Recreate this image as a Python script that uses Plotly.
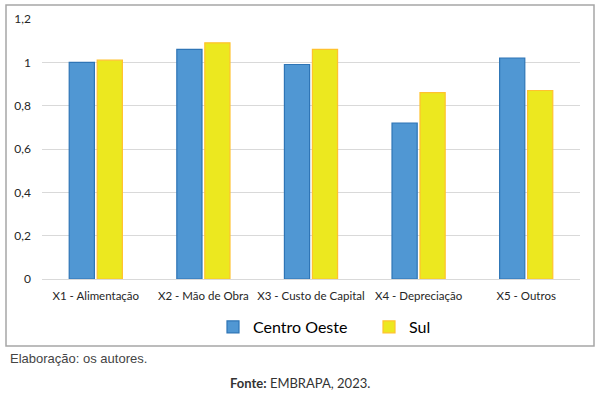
import plotly.graph_objects as go

categories = ["X1 - Alimentação", "X2 - Mão de Obra", "X3 - Custo de Capital", "X4 - Depreciação", "X5 - Outros"]
centro_oeste = [1.00, 1.06, 0.99, 0.72, 1.02]
sul = [1.01, 1.09, 1.06, 0.86, 0.87]
y_ticks = [0, 0.2, 0.4, 0.6, 0.8, 1.0, 1.2]

fig = go.Figure()
fig.add_trace(go.Bar(name="Centro Oeste", x=categories, y=centro_oeste,
                     marker=dict(color="#5097D3", line=dict(color="#2E75B6", width=1.2))))
fig.add_trace(go.Bar(name="Sul", x=categories, y=sul,
                     marker=dict(color="#ECE81F", line=dict(color="#FFC22E", width=1.2))))

L, R, T, B = 42, 580, 19, 279
W, H = 600, 397
def px(x):
    return (x - L) / (R - L)
def py(y):
    return (B - y) / (B - T)

fig.update_layout(
    width=W, height=H,
    margin=dict(l=L, r=W - R, t=T, b=H - B),
    paper_bgcolor="white", plot_bgcolor="white",
    separators=",.",
    barmode="group", bargap=0.48, bargroupgap=0.1,
    font=dict(family="Lato, Open Sans, sans-serif", color="#404040"),
    xaxis=dict(showgrid=False, showline=True, linecolor="#D9D9D9", linewidth=1,
               ticks="", tickfont=dict(size=11.5, color="#262626"), ticklabelstandoff=6),
    yaxis=dict(range=[0, 1.2], tickvals=y_ticks, showgrid=True, gridcolor="#D9D9D9",
               gridwidth=1, zeroline=False, showline=False, ticks="",
               tickfont=dict(size=12, color="#262626"), ticklabelstandoff=10),
    legend=dict(orientation="h", x=px(213), xanchor="left", y=py(327), yanchor="middle",
                font=dict(size=16, color="#000000"), entrywidth=111, entrywidthmode="pixels",
                itemwidth=30, bgcolor="rgba(0,0,0,0)"),
    showlegend=True,
    shapes=[dict(type="rect", xref="paper", yref="paper",
                 x0=px(6), x1=px(594), y0=py(346), y1=py(5),
                 line=dict(color="#A6A6A6", width=1.5), fillcolor="rgba(0,0,0,0)", layer="below")],
    annotations=[
        dict(text="Elaboração: os autores.", xref="paper", yref="paper", x=px(8), y=py(358),
             xanchor="left", yanchor="middle", showarrow=False,
             font=dict(family="Liberation Sans, Arial, sans-serif", size=13, color="#444444")),
        dict(text="<b>Fonte:</b> EMBRAPA, 2023.", xref="paper", yref="paper", x=px(300), y=py(383),
             xanchor="center", yanchor="middle", showarrow=False,
             font=dict(family="Lato, sans-serif", size=13, color="#333333")),
    ],
)

fig.write_html("out.html", config={"displayModeBar": False},
               post_script="document.body.style.margin='0';")
